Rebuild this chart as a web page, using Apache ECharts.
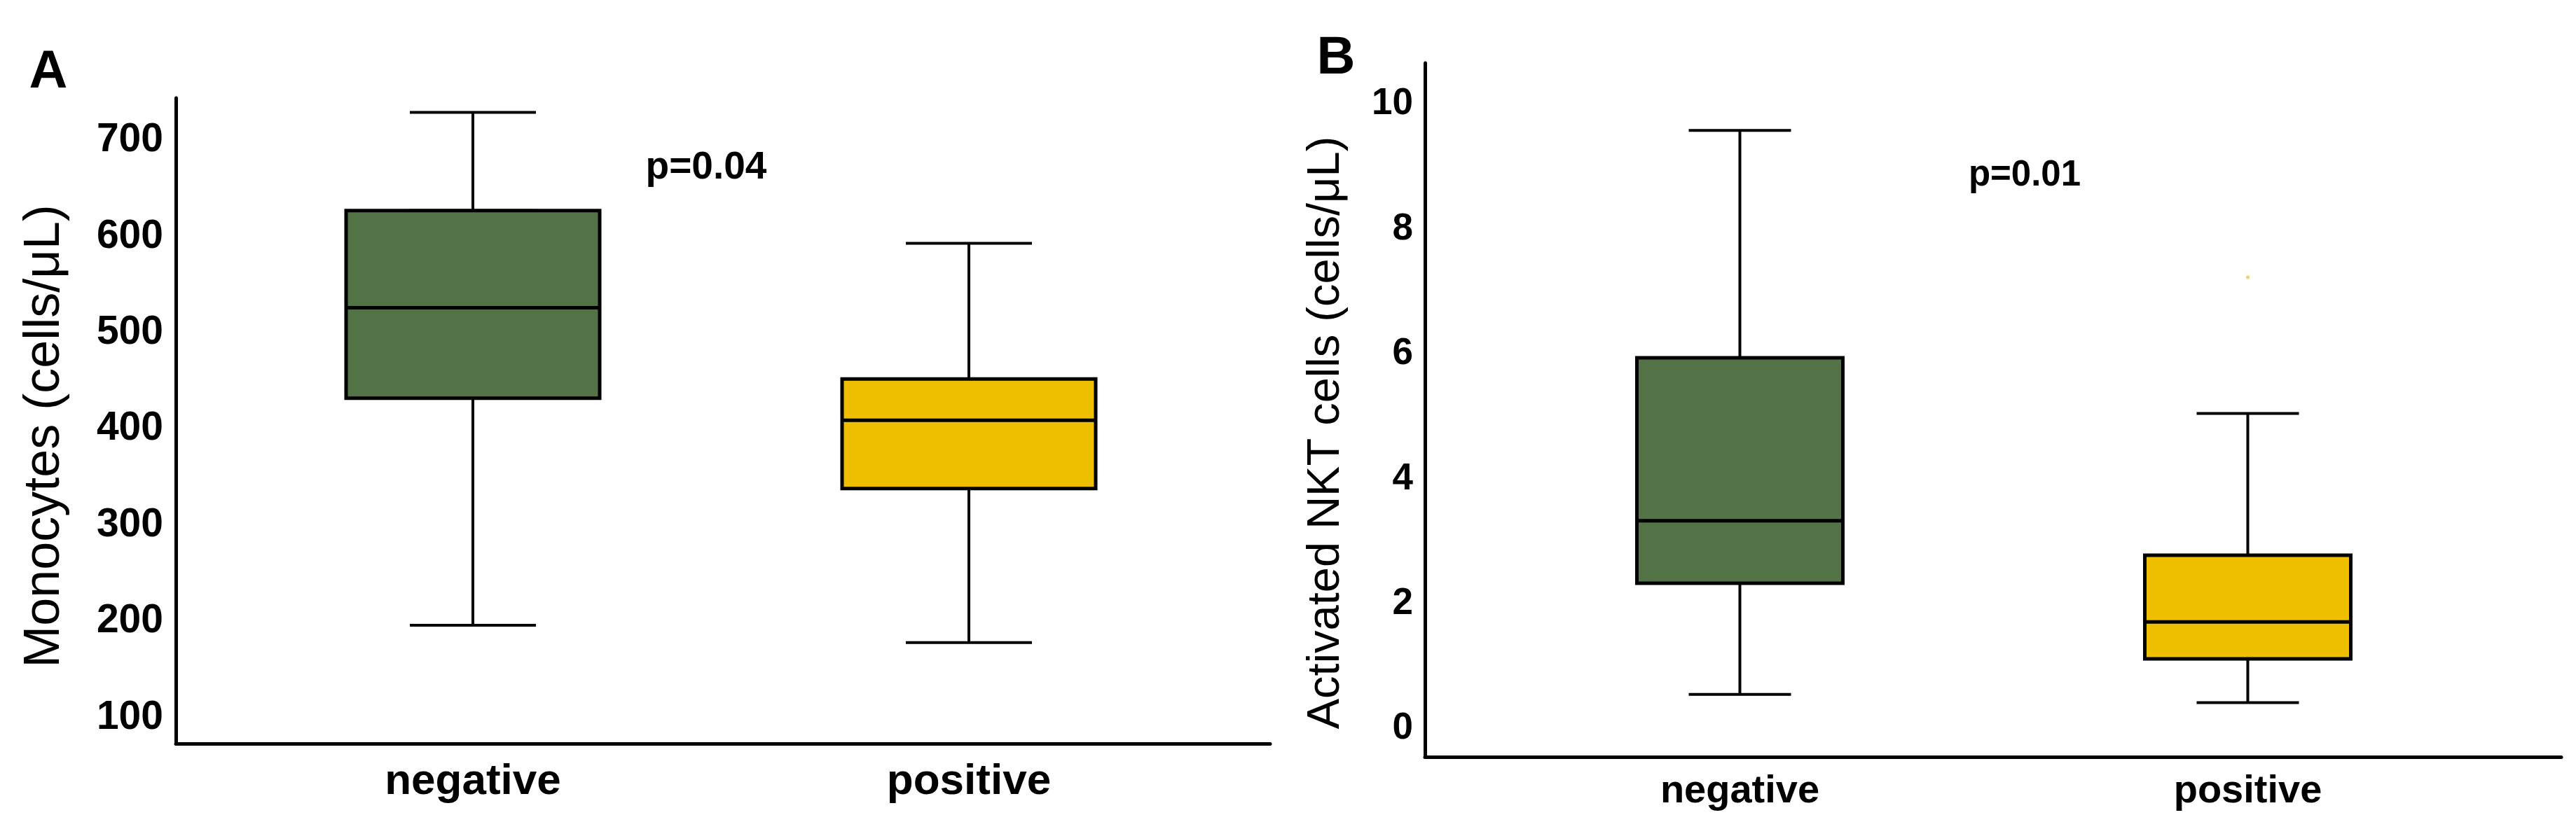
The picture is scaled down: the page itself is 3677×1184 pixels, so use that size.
<!DOCTYPE html>
<html>
<head>
    <meta charset="UTF-8">
    <title></title>
    <script type="text/javascript" src="https://cdn.jsdelivr.net/npm/echarts@6/dist/echarts.min.js"></script>
    <style>
        html, body { margin: 0; padding: 0; background: #fff; }
    </style>
</head>
<body>
<div id="main" style="width: 3677px;height:1184px;"></div>
<script>
    // groups on the x axis
    var categories = ['negative', 'positive'];

    // [min, Q1, median, Q3, max]
    var monoNeg = [196, 432, 526, 627, 729];
    var monoPos = [178, 338, 409, 452, 593];
    var nktNeg = [0.55, 2.33, 3.33, 5.94, 9.58];
    var nktPos = [0.42, 1.12, 1.71, 2.78, 5.05];
    var nktOutliers = [['positive', 7.23]];

    var monoTicks = [100, 200, 300, 400, 500, 600, 700];
    var nktTicks = [0, 2, 4, 6, 8, 10];

    var green = '#537346';
    var yellow = '#EDBF00';
    var font = '"Liberation Sans", Arial, sans-serif';

    // box only: whiskers folded onto the box edges
    function boxOnly(d) {
        return [d[1], d[1], d[2], d[3], d[3]];
    }

    function colored(d, c) {
        return {value: d, itemStyle: {color: c}};
    }

    var hidden = {show: false};
    var blackLine = {show: true, onZero: false, lineStyle: {color: '#000', width: 5}};

    var myChart = echarts.init(document.getElementById('main'));
    myChart.setOption({
        animation: false,
        backgroundColor: '#fff',
        textStyle: {fontFamily: font},
        grid: [
            // A: axis frame, then boxes
            {left: 251, top: 140, width: 1562, height: 922},
            {left: 321, top: 140, width: 1416, height: 922},
            // B
            {left: 2034, top: 90, width: 1622, height: 991},
            {left: 2121, top: 90, width: 1450, height: 991}
        ],
        xAxis: [
            {gridIndex: 0, type: 'value', min: 0, max: 1, axisLine: blackLine,
                axisTick: hidden, axisLabel: hidden, splitLine: hidden},
            {gridIndex: 1, type: 'category', data: categories, axisLine: hidden, axisTick: hidden, splitLine: hidden,
                axisLabel: {color: '#000', fontWeight: 'bold', fontSize: 62, margin: 24, fontFamily: font}},
            {gridIndex: 1, type: 'category', data: categories, show: false},
            {gridIndex: 2, type: 'value', min: 0, max: 1, axisLine: blackLine,
                axisTick: hidden, axisLabel: hidden, splitLine: hidden},
            {gridIndex: 3, type: 'category', data: categories, axisLine: hidden, axisTick: hidden, splitLine: hidden,
                axisLabel: {color: '#000', fontWeight: 'bold', fontSize: 56, margin: 22, fontFamily: font}},
            {gridIndex: 3, type: 'category', data: categories, show: false}
        ],
        yAxis: [
            {gridIndex: 0, type: 'value', min: 73, max: 744,
                name: 'Monocytes (cells/μL)', nameLocation: 'middle', nameRotate: 90, nameGap: 151,
                nameTextStyle: {color: '#000', fontSize: 72, fontFamily: font, padding: [0, 44, 0, 0]},
                axisLine: blackLine, axisTick: hidden, splitLine: hidden,
                axisLabel: {customValues: monoTicks, color: '#000', fontWeight: 'bold', fontSize: 57, margin: 18, fontFamily: font}},
            {gridIndex: 1, type: 'value', min: 73, max: 744, show: false, splitLine: hidden},
            {gridIndex: 2, type: 'value', min: -0.45, max: 10.66,
                name: 'Activated NKT cells (cells/μL)', nameLocation: 'middle', nameRotate: 90, nameGap: 108,
                nameTextStyle: {color: '#000', fontSize: 65, fontFamily: font, padding: [0, 65, 0, 0]},
                axisLine: blackLine, axisTick: hidden, splitLine: hidden,
                axisLabel: {customValues: nktTicks, color: '#000', fontWeight: 'bold', fontSize: 53, margin: 17, fontFamily: font}},
            {gridIndex: 3, type: 'value', min: -0.45, max: 10.66, show: false, splitLine: hidden}
        ],
        series: [
            // whiskers with half-width caps, box part hidden under the full box
            {type: 'boxplot', xAxisIndex: 2, yAxisIndex: 1, boxWidth: [180, 180], z: 1,
                itemStyle: {borderColor: '#000', borderWidth: 4},
                data: [colored(monoNeg, green), colored(monoPos, yellow)]},
            {type: 'boxplot', xAxisIndex: 1, yAxisIndex: 1, boxWidth: [362, 362], z: 2,
                itemStyle: {borderColor: '#000', borderWidth: 5},
                data: [colored(boxOnly(monoNeg), green), colored(boxOnly(monoPos), yellow)]},
            {type: 'boxplot', xAxisIndex: 5, yAxisIndex: 3, boxWidth: [146, 146], z: 1,
                itemStyle: {borderColor: '#000', borderWidth: 4},
                data: [colored(nktNeg, green), colored(nktPos, yellow)]},
            {type: 'boxplot', xAxisIndex: 4, yAxisIndex: 3, boxWidth: [294, 294], z: 2,
                itemStyle: {borderColor: '#000', borderWidth: 5},
                data: [colored(boxOnly(nktNeg), green), colored(boxOnly(nktPos), yellow)]},
            {type: 'scatter', xAxisIndex: 4, yAxisIndex: 3, symbolSize: 5,
                itemStyle: {color: '#E3C65A'}, data: nktOutliers}
        ],
        graphic: [
            {type: 'text', style: {x: 69, y: 104, text: 'A', fill: '#000', font: 'bold 76px ' + font, textAlign: 'center', textVerticalAlign: 'middle'}},
            {type: 'text', style: {x: 1907, y: 84, text: 'B', fill: '#000', font: 'bold 76px ' + font, textAlign: 'center', textVerticalAlign: 'middle'}},
            {type: 'text', style: {x: 1008, y: 240, text: 'p=0.04', fill: '#000', font: 'bold 55px ' + font, textAlign: 'center', textVerticalAlign: 'middle'}},
            {type: 'text', style: {x: 2890, y: 251, text: 'p=0.01', fill: '#000', font: 'bold 51px ' + font, textAlign: 'center', textVerticalAlign: 'middle'}}
        ]
    });
</script>
</body>
</html>
